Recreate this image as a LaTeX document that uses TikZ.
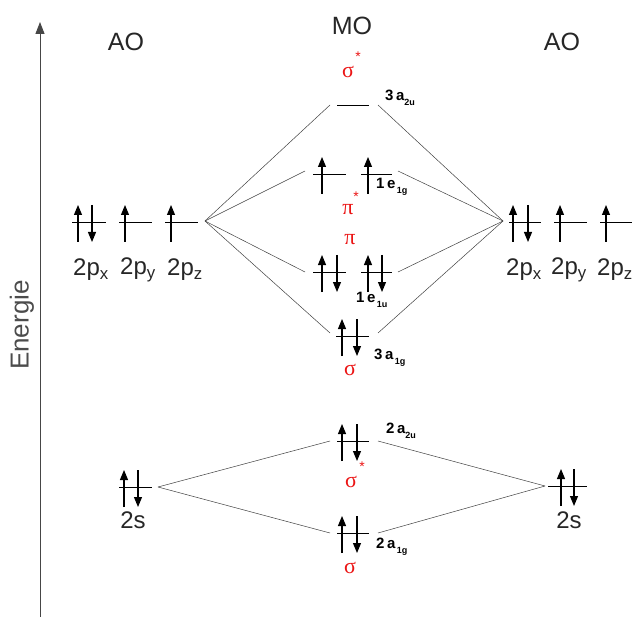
\documentclass[tikz,border=0pt]{standalone}
\usepackage{fontspec}
\setmainfont{Liberation Sans}
\newfontfamily\greekf{Liberation Serif}
\usetikzlibrary{arrows.meta}
\definecolor{mored}{RGB}{235,20,20}
\definecolor{axisgray}{RGB}{70,70,70}
\newcommand\mylevel[4]{% name, x1, x2, y
  \draw[lvl] (#2,#4) coordinate (#1-l) -- (#3,#4) coordinate (#1-r);}
\newcommand\eup[2]{\draw[elec] (#1,#2+20) -- (#1,#2-17);}
\newcommand\edown[2]{\draw[elec] (#1,#2-17) -- (#1,#2+20);}
\newcommand\subl[1]{\raisebox{-5pt}{\fontsize{9}{9}\selectfont #1}}
\begin{document}
\begin{tikzpicture}[x=1pt,y=-1pt,
  lvl/.style={line width=0.9pt, black},
  elec/.style={line width=1.1pt, black, -{Triangle[width=8pt,length=10pt]}},
  conn/.style={line width=0.5pt, black!75},
  big/.style={font=\fontsize{25}{25}\selectfont, text=black!85, inner sep=0pt},
  orb/.style={font=\fontsize{24}{24}\selectfont, text=black!85, inner sep=0pt},
  greek/.style={font=\greekf\fontsize{22}{22}\selectfont, text=mored, inner sep=0pt},
  star/.style={text=mored, font=\fontsize{14}{14}\selectfont, inner sep=0pt},
  sym/.style={font=\fontsize{15}{15}\selectfont\bfseries, inner sep=0pt, anchor=west}]
\useasboundingbox (0,0) rectangle (636,617);
% axis
\coordinate (axb) at (40,617);
\coordinate (axt) at (40,22);
\draw[line width=1pt, axisgray, -{Triangle[width=9pt,length=12pt]}] (axb) -- (axt);
\node[big, rotate=90, font=\fontsize{26}{26}\selectfont, text=black!70] (energie) at (22,325) {Energie};
% headers
\node[big] (aol) at (126,42) {AO};
\node[big] (mo) at (352,26) {MO};
\node[big] (aor) at (562,42) {AO};
% left 2p
\mylevel{lpx}{72}{106}{222} \eup{78}{222} \edown{92}{222}
\mylevel{lpy}{119}{152}{222} \eup{125}{222}
\mylevel{lpz}{165}{198}{222} \eup{171}{222}
\node[orb] (lpxt) at (91,270) {2p\textsubscript{x}};
\node[orb] (lpyt) at (138,270) {2p\textsubscript{y}};
\node[orb] (lpzt) at (185,270) {2p\textsubscript{z}};
% right 2p
\mylevel{rpx}{509}{541}{222} \eup{513}{222} \edown{528}{222}
\mylevel{rpy}{554}{587}{222} \eup{560}{222}
\mylevel{rpz}{600}{632}{222} \eup{606}{222}
\node[orb] (rpxt) at (524,270) {2p\textsubscript{x}};
\node[orb] (rpyt) at (569,270) {2p\textsubscript{y}};
\node[orb] (rpzt) at (615,270) {2p\textsubscript{z}};
% convergence points
\coordinate (cl) at (205,221);
\coordinate (cr) at (503,221);
% MO levels from 2p
\mylevel{s2u}{337}{369}{105}
\node[greek] (ssu) at (348,72) {σ};
\node[star] (ssus) at (358,57) {*};
\node[sym] (l3a2u) at (385,98) {3\,a\subl{2u}};
\mylevel{pg1}{313}{346}{174} \eup{322}{174}
\mylevel{pg2}{361}{392}{174} \eup{368}{174}
\node[sym] (l1e1g) at (376,187) {1\,e\subl{\,1g}};
\node[greek] (pig) at (348,210) {π};
\node[star] (pigs) at (356,197) {*};
\node[greek] (piu) at (350,240) {π};
\mylevel{pu1}{313}{346}{272} \eup{322}{272} \edown{337}{272}
\mylevel{pu2}{361}{392}{272} \eup{368}{272} \edown{382}{272}
\node[sym] (l1e1u) at (356,300) {1\,e\subl{\,1u}};
\mylevel{s1g}{336}{369}{336} \eup{342}{336} \edown{357}{336}
\node[sym] (l3a1g) at (374,358) {3\,a\subl{\,1g}};
\node[greek] (sg) at (350,370) {σ};
% 2s
\mylevel{ls}{119}{152}{487} \eup{124}{487} \edown{138}{487}
\node[orb] (lst) at (133,520) {2s};
\mylevel{rs}{548}{587}{486} \eup{561}{486} \edown{574}{486}
\node[orb] (rst) at (569,520) {2s};
\coordinate (csl) at (158,487);
\coordinate (csr) at (545,486);
\mylevel{s2s}{337}{369}{441} \eup{342}{441} \edown{357}{441}
\node[sym] (l2a2u) at (386,431) {2\,a\subl{2u}};
\node[greek] (ssu2) at (351,482) {σ};
\node[star] (ssu2s) at (362,467) {*};
\mylevel{s1s}{337}{369}{533} \eup{342}{533} \edown{357}{533}
\node[sym] (l2a1g) at (376,547) {2\,a\subl{\,1g}};
\node[greek] (sg2) at (350,568) {σ};
% connectors
\draw[conn] (cl) -- ([xshift=-7pt]s2u-l);
\draw[conn] (cr) -- ([xshift=9pt]s2u-r);
\draw[conn] (cl) -- ([xshift=-8pt,yshift=3pt]pg1-l);
\draw[conn] (cr) -- ([xshift=6pt,yshift=3pt]pg2-r);
\draw[conn] (cl) -- ([xshift=-8pt]pu1-l);
\draw[conn] (cr) -- ([xshift=6pt]pu2-r);
\draw[conn] (cl) -- ([xshift=-6pt,yshift=3pt]s1g-l);
\draw[conn] (cr) -- ([xshift=9pt,yshift=3pt]s1g-r);
\draw[conn] (csl) -- ([xshift=-7pt]s2s-l);
\draw[conn] (csr) -- ([xshift=9pt]s2s-r);
\draw[conn] (csl) -- ([xshift=-7pt]s1s-l);
\draw[conn] (csr) -- ([xshift=9pt]s1s-r);
\end{tikzpicture}
\end{document}
